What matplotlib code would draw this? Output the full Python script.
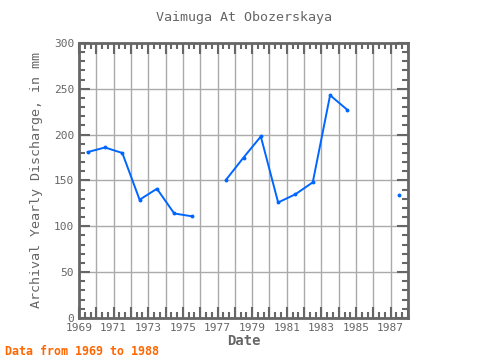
import numpy as np
import matplotlib
matplotlib.use("Agg")
import matplotlib.pyplot as plt
from matplotlib.ticker import MultipleLocator, FuncFormatter

# yearly discharge, mm (None = no data)
years = [1969, 1970, 1971, 1972, 1973, 1974, 1975, 1976, 1977, 1978,
         1979, 1980, 1981, 1982, 1983, 1984, 1985, 1986, 1987]
discharge = [181, 186, 180, 129, 141, 114, 111, None, 151, 175,
             198, 126, 135, 148, 243, 227, None, None, 134]

x = np.array(years, dtype=float) + 0.5
y = np.array([np.nan if v is None else v for v in discharge], dtype=float)

fig = plt.figure(figsize=(4.8, 3.6), dpi=100)
ax = fig.add_axes([0.1646, 0.1167, 0.6854, 0.7639])

mono = "DejaVu Sans Mono"
grey = "#666666"

ax.plot(x, y, color="#0066ff", lw=1.4, marker="o", ms=1.8, zorder=3)

ax.set_xlim(1969, 1988)
ax.set_ylim(0, 300)
ax.xaxis.set_major_locator(MultipleLocator(1))
ax.xaxis.set_major_formatter(FuncFormatter(
    lambda v, p: "%d" % round(v) if round(v) % 2 == 1 else ""))
ax.xaxis.set_minor_locator(MultipleLocator(1 / 3))
ax.yaxis.set_major_locator(MultipleLocator(50))
ax.yaxis.set_minor_locator(MultipleLocator(10))

ax.grid(which="major", color="#aaaaaa", lw=1, zorder=1)
ax.set_axisbelow(True)

ax.tick_params(which="both", direction="in", top=True, right=True,
               color=grey, width=1.5)
ax.tick_params(which="major", length=8, labelsize=8, labelcolor=grey)
ax.tick_params(which="minor", length=4)
for lab in ax.get_xticklabels() + ax.get_yticklabels():
    lab.set_family(mono)

for s in ax.spines.values():
    s.set_color(grey)
    s.set_linewidth(2)

ax.set_title("Vaimuga At Obozerskaya", family=mono, fontsize=9.6,
             color=grey, pad=16)
ax.set_xlabel("Date", family=mono, fontsize=10, color=grey,
              fontweight="bold", labelpad=1)
ax.set_ylabel("Archival Yearly Discharge, in mm", family=mono,
              fontsize=9.6, color=grey, labelpad=8)

fig.text(0.01, 0.015, "Data from 1969 to 1988", family=mono, fontsize=8.4,
         color="#ff6600", fontweight="bold")

fig.savefig("out.png", dpi=100)
